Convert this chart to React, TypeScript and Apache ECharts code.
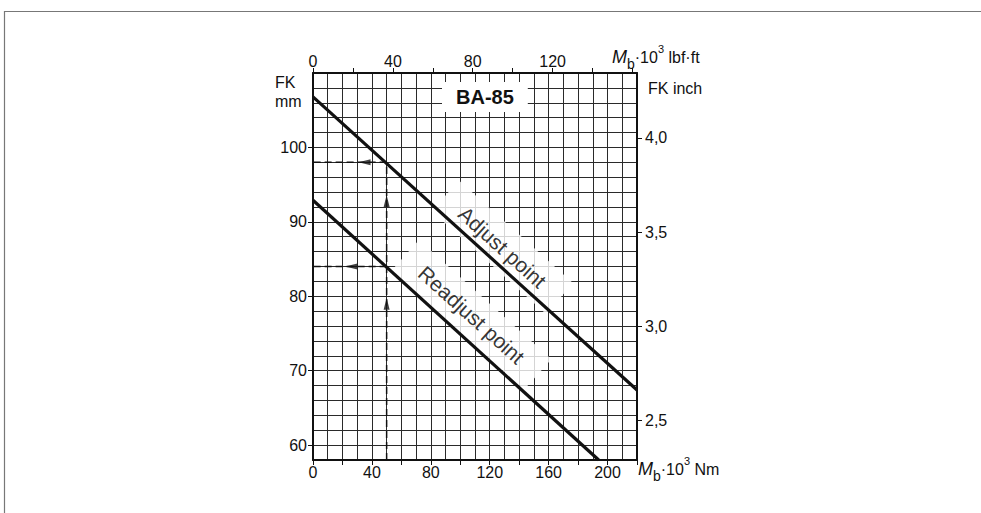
import React, { useEffect, useRef } from 'react';
import * as echarts from 'echarts';

// ---- data ----
const nmTicks = [0, 20, 40, 60, 80, 100, 120, 140, 160, 180, 200, 220];
const nmLabels = [0, 40, 80, 120, 160, 200];
const lbfTicks = [0, 20, 40, 60, 80, 100, 120, 140, 160];
const lbfLabels = [0, 40, 80, 120];
const mmLabels = [60, 70, 80, 90, 100];
const inchLabels = [2.5, 3.0, 3.5, 4.0];

const adjustLine = [[0, 106.8], [220, 67.4]];
const readjustLine = [[0, 92.9], [194, 58]];
const guideVertical = [[50, 58], [50, 98]];
const guideAdjust = [[50, 98], [0, 98]];
const guideReadjust = [[50, 84], [0, 84]];
const arrowsUp = [[50, 92.8], [50, 79]];
const arrowsLeft = [[35, 98], [26, 84]];
const curveLabels = [
  { name: 'Adjust point', value: [128.6, 86.6] },
  { name: 'Readjust point', value: [107.6, 77.5] },
];

const NM_MAX = 220;
const NM_GRID_STEP = 10;
const LBF_PER_KNM = 0.737562;
const MM_MIN = 58;
const MM_MAX = 110;
const MM_GRID_STEP = 2;
const INCH_MIN = 2.29;
const INCH_MAX = 4.345;

const FONT = '"Liberation Sans", Arial, sans-serif';
const INK = '#111';

export default function App() {
  const ref = useRef<HTMLDivElement>(null);

  useEffect(() => {
    if (!ref.current) return;
    const chart = echarts.init(ref.current, null, { renderer: 'svg' });

    const axisLineStyle = { color: INK, width: 2 };
    const gridLine = { color: '#2a2a2a', width: 1 };
    const labelStyle = { color: INK, fontSize: 16, fontFamily: FONT };
    const hidden = {
      axisLine: { show: false },
      axisTick: { show: false },
      axisLabel: { show: false },
    };

    const richName = {
      m: { fontSize: 18, fontStyle: 'italic', fontFamily: FONT, lineHeight: 28, verticalAlign: 'middle', color: INK },
      b: { fontSize: 14, fontFamily: FONT, lineHeight: 14, verticalAlign: 'bottom', color: INK },
      n: { fontSize: 16, fontFamily: FONT, lineHeight: 16, verticalAlign: 'middle', color: INK },
      s: { fontSize: 11, fontFamily: FONT, lineHeight: 14, verticalAlign: 'top', color: INK },
    };

    const option: any = {
      animation: false,
      backgroundColor: '#fff',
      title: {
        text: 'BA-85',
        left: 442,
        top: 82,
        backgroundColor: '#fff',
        padding: [5, 14],
        textStyle: { fontSize: 20, fontWeight: 'bold', fontFamily: FONT, color: INK },
      },
      grid: { left: 313, top: 73, width: 324, height: 387, containLabel: false },
      xAxis: [
        {
          type: 'value',
          position: 'bottom',
          min: 0,
          max: NM_MAX,
          axisLine: { show: true, onZero: false, lineStyle: axisLineStyle },
          axisTick: { show: true, customValues: nmTicks, length: 5, lineStyle: { color: INK, width: 1 } },
          axisLabel: { customValues: nmLabels, margin: 4, ...labelStyle },
          splitLine: { show: false },
          z: 2,
        },
        {
          type: 'value',
          position: 'top',
          min: 0,
          max: NM_MAX * LBF_PER_KNM,
          axisLine: { show: true, onZero: false, lineStyle: axisLineStyle },
          axisTick: { show: true, customValues: lbfTicks, length: 5, lineStyle: { color: INK, width: 1 } },
          axisLabel: { customValues: lbfLabels, margin: 4, ...labelStyle },
          splitLine: { show: false },
          z: 2,
        },
        {
          type: 'value',
          position: 'bottom',
          min: 0,
          max: NM_MAX,
          interval: NM_GRID_STEP,
          ...hidden,
          splitLine: { show: true, lineStyle: gridLine },
          z: 0,
        },
      ],
      yAxis: [
        {
          type: 'value',
          position: 'left',
          min: MM_MIN,
          max: MM_MAX,
          axisLine: { show: true, onZero: false, lineStyle: axisLineStyle },
          axisTick: { show: true, customValues: mmLabels, length: 5, lineStyle: { color: INK, width: 1 } },
          axisLabel: { customValues: mmLabels, margin: 6, ...labelStyle },
          splitLine: { show: false },
          z: 2,
        },
        {
          type: 'value',
          position: 'right',
          min: INCH_MIN,
          max: INCH_MAX,
          axisLine: { show: true, onZero: false, lineStyle: axisLineStyle },
          axisTick: { show: true, customValues: inchLabels, length: 5, lineStyle: { color: INK, width: 1 } },
          axisLabel: {
            customValues: inchLabels,
            margin: 8,
            formatter: (v: number) => v.toFixed(1).replace('.', ','),
            ...labelStyle,
          },
          splitLine: { show: false },
          z: 2,
        },
        {
          type: 'value',
          position: 'left',
          min: MM_MIN,
          max: MM_MAX,
          interval: MM_GRID_STEP,
          ...hidden,
          splitLine: { show: true, lineStyle: gridLine },
          z: 0,
        },
      ],
      series: [
        {
          type: 'scatter',
          name: 'curve labels',
          z: 3,
          symbolSize: 0,
          data: curveLabels,
          silent: true,
          label: {
            show: true,
            position: 'inside',
            formatter: (p: any) => p.name,
            rotate: -42,
            fontSize: 21,
            fontFamily: FONT,
            color: '#000',
            backgroundColor: '#fff',
            padding: [10, 22],
          },
        },
        {
          type: 'line', name: 'Adjust point', z: 5, data: adjustLine, symbol: 'none',
          lineStyle: { color: INK, width: 3.2 },
        },
        {
          type: 'line', name: 'Readjust point', z: 5, data: readjustLine, symbol: 'none',
          lineStyle: { color: INK, width: 3.2 },
        },
        {
          type: 'line', z: 5, data: guideVertical, symbol: 'none',
          lineStyle: { color: INK, width: 1.5, type: [7, 4] },
        },
        {
          type: 'line', z: 5, data: guideAdjust, symbol: 'none',
          lineStyle: { color: INK, width: 1.5, type: [7, 4] },
        },
        {
          type: 'line', z: 5, data: guideReadjust, symbol: 'none',
          lineStyle: { color: INK, width: 1.5, type: [7, 4] },
        },
        {
          type: 'scatter', z: 6, data: arrowsUp, symbol: 'triangle', symbolSize: [6, 12], symbolRotate: 0,
          itemStyle: { color: INK },
        },
        {
          type: 'scatter', z: 6, data: arrowsLeft, symbol: 'triangle', symbolSize: [6, 12], symbolRotate: 90,
          itemStyle: { color: INK },
        },
      ],
      graphic: [
        {
          type: 'rect',
          shape: { x: 4.5, y: 11.5, width: 1400, height: 900 },
          style: { fill: 'none', stroke: '#777', lineWidth: 1.2 },
          silent: true,
        },
        {
          type: 'text',
          x: 275,
          y: 73,
          style: {
            text: 'FK\nmm', fill: INK, fontSize: 16, fontFamily: FONT, lineHeight: 19,
            align: 'left', verticalAlign: 'top',
          },
        },
        {
          type: 'text',
          x: 648,
          y: 88,
          style: {
            text: 'FK inch', fill: INK, fontSize: 16, fontFamily: FONT,
            align: 'left', verticalAlign: 'middle',
          },
        },
        {
          type: 'text',
          x: 612,
          y: 57,
          style: {
            text: '{m|M}{b|b}{n|·10}{s|3}{n| lbf·ft}', rich: richName, fill: INK,
            align: 'left', verticalAlign: 'middle',
          },
        },
        {
          type: 'text',
          x: 638,
          y: 469,
          style: {
            text: '{m|M}{b|b}{n|·10}{s|3}{n| Nm}', rich: richName, fill: INK,
            align: 'left', verticalAlign: 'middle',
          },
        },
      ],
    };

    chart.setOption(option);
    return () => chart.dispose();
  }, []);

  return (
    <div
      ref={ref}
      style={{ position: 'fixed', left: 0, top: 0, width: 981, height: 513, background: '#fff' }}
    />
  );
}
